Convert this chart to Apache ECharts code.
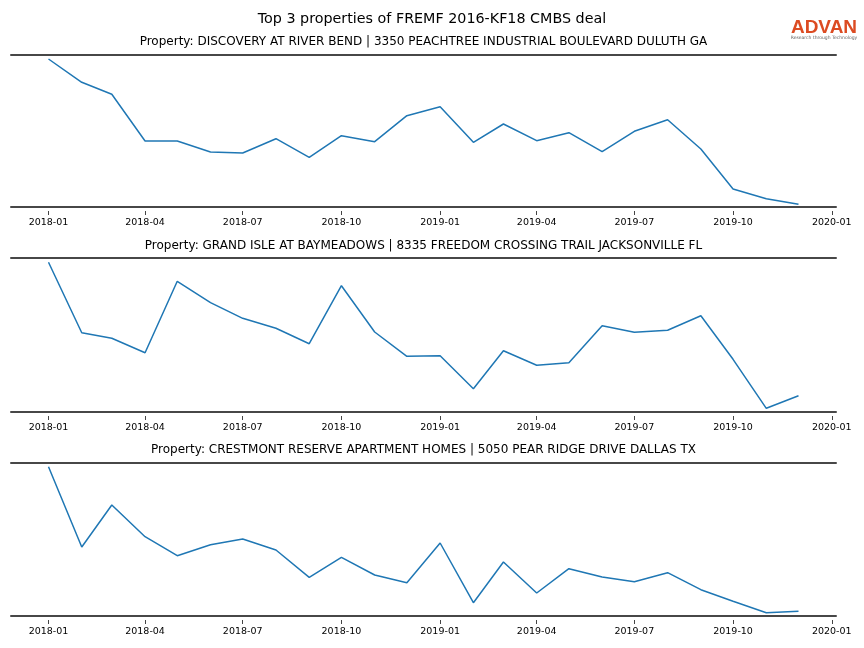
<!DOCTYPE html>
<html><head><meta charset="utf-8">
<script src="https://cdn.jsdelivr.net/npm/echarts@6/dist/echarts.min.js"></script>
<style>html,body{margin:0;padding:0;background:#fff}#c{width:864px;height:648px}</style>
</head><body><div id="c"></div>
<script>
const months = ['2018-01','2018-02','2018-03','2018-04','2018-05','2018-06','2018-07','2018-08','2018-09','2018-10','2018-11','2018-12',
                '2019-01','2019-02','2019-03','2019-04','2019-05','2019-06','2019-07','2019-08','2019-09','2019-10','2019-11','2019-12'];
const tickLabels = ['2018-01','2018-04','2018-07','2018-10','2019-01','2019-04','2019-07','2019-10','2020-01'];
const mainTitle = 'Top 3 properties of FREMF 2016-KF18 CMBS deal';
const panelTitles = [
  'Property: DISCOVERY AT RIVER BEND | 3350 PEACHTREE INDUSTRIAL BOULEVARD DULUTH GA',
  'Property: GRAND ISLE AT BAYMEADOWS | 8335 FREEDOM CROSSING TRAIL JACKSONVILLE FL',
  'Property: CRESTMONT RESERVE APARTMENT HOMES | 5050 PEAR RIDGE DRIVE DALLAS TX'
];
const discovery = [148,124.7,112.7,66,66,55,54,68.3,49.7,71.3,65.3,91.3,100.3,64.7,83,66.3,74.3,55.3,75.7,87.3,58,18,8.3,2.7];
const grandIsle = [149.7,79.3,73.7,59.3,130.7,109.3,93.7,83.7,68.3,126.3,80,55.7,56.3,23.3,61.3,46.7,49.3,86.3,79.7,81.7,96.3,52.7,3.7,16.3];
const crestmont = [149.3,69,111,79.3,60.3,71.3,77,66,38.7,58.7,41,33.3,73,13.3,54,23,47.3,39,34.3,43.3,26.3,14.7,3.3,4.7];
const seriesData = [discovery, grandIsle, crestmont];

function toTs(s){const p=s.split('-');return Date.UTC(+p[0],+p[1]-1,1);}
function fmt(v){const d=new Date(v);return d.getUTCFullYear()+'-'+String(d.getUTCMonth()+1).padStart(2,'0');}
const xs = months.map(toTs);
const tickTs = tickLabels.map(toTs);
const span = xs[xs.length-1]-xs[0];
const xMin = xs[0]-span*0.05, xMax = xs[xs.length-1]+span*0.05;

const grids = [
  {left:11, right:28, top:55, height:152},
  {left:11, right:28, top:258, height:154},
  {left:11, right:28, top:463, height:153}
];
const yMax = [152,154,153];
const titleY = [42,246,450];
const spine = {show:true, lineStyle:{color:'#474747', width:2}};

const xAxes=[], yAxes=[], series=[], graphics=[];
grids.forEach((g,i)=>{
  xAxes.push({type:'value', gridIndex:i, min:xMin, max:xMax, position:'bottom',
    axisLine:spine, axisTick:{show:false}, axisLabel:{show:false}, splitLine:{show:false}});
  xAxes.push({type:'value', gridIndex:i, min:xMin, max:xMax, position:'top',
    axisLine:spine, axisTick:{show:false}, axisLabel:{show:false}, splitLine:{show:false}});
  xAxes.push({type:'value', gridIndex:i, min:xMin, max:xMax, position:'bottom', offset:4,
    axisLine:{show:false}, splitLine:{show:false},
    axisTick:{show:true, customValues:tickTs, length:4, lineStyle:{color:'#444',width:1}},
    axisLabel:{customValues:tickTs, formatter:fmt, fontSize:9.5, color:'#000', margin:7, fontFamily:'DejaVu Sans'}});
  yAxes.push({type:'value', gridIndex:i, min:0, max:yMax[i], show:false, splitLine:{show:false}});
  series.push({type:'line', xAxisIndex:i*3, yAxisIndex:i, showSymbol:false, symbol:'none',
    lineStyle:{color:'#1f77b4', width:1.5}, data:xs.map((x,k)=>[x, seriesData[i][k]])});
  graphics.push({type:'text', x:423.5, y:titleY[i], style:{text:panelTitles[i], textAlign:'center', textVerticalAlign:'middle', fontSize:12, fontFamily:'DejaVu Sans', fill:'#000'}});
});
graphics.push({type:'text', x:432, y:19, style:{text:mainTitle, textAlign:'center', textVerticalAlign:'middle', fontSize:14.3, fontFamily:'DejaVu Sans', fill:'#000'}});
graphics.push({type:'text', x:824, y:28, style:{text:'ADVAN', textAlign:'center', textVerticalAlign:'middle', fontSize:19, fontWeight:'bold', fontFamily:'Liberation Sans', fill:'#dc4b22'}});
graphics.push({type:'text', x:824, y:38, style:{text:'Research through Technology', textAlign:'center', textVerticalAlign:'middle', fontSize:4.5, fontFamily:'DejaVu Sans', fill:'#666'}});

const chart = echarts.init(document.getElementById('c'), null, {renderer:'canvas'});
chart.setOption({animation:false, backgroundColor:'#fff', grid:grids, xAxis:xAxes, yAxis:yAxes, series:series, graphic:graphics});
</script></body></html>
